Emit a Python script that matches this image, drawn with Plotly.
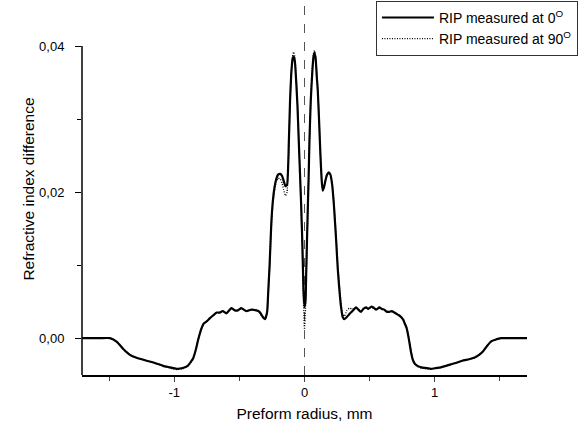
import plotly.graph_objects as go

# Preform radius (mm)
radius = [-1.709, -1.571, -1.494, -1.441, -1.392, -1.341, -1.290, -1.213, -1.149, -1.086,
          -1.034, -0.983, -0.935, -0.897, -0.856, -0.835, -0.818, -0.792, -0.774, -0.751,
          -0.728, -0.703, -0.674, -0.651, -0.628, -0.600, -0.562, -0.536, -0.511, -0.485,
          -0.447, -0.408, -0.370, -0.345, -0.320, -0.303, -0.287, -0.278, -0.268, -0.255,
          -0.243, -0.230, -0.217, -0.203, -0.186, -0.172, -0.161, -0.146, -0.134, -0.120,
          -0.111, -0.102, -0.092, -0.084, -0.074, -0.064, -0.054, -0.044, -0.034, -0.025,
          -0.015, -0.008, 0.000, 0.008, 0.013, 0.023, 0.031, 0.038, 0.048, 0.059,
          0.069, 0.077, 0.086, 0.094, 0.102, 0.112, 0.123, 0.132, 0.140, 0.149,
          0.161, 0.174, 0.186, 0.199, 0.212, 0.226, 0.243, 0.255, 0.268, 0.281,
          0.293, 0.307, 0.326, 0.345, 0.368, 0.396, 0.414, 0.434, 0.452, 0.473,
          0.490, 0.511, 0.529, 0.549, 0.575, 0.594, 0.613, 0.632, 0.651, 0.670,
          0.690, 0.709, 0.728, 0.747, 0.759, 0.770, 0.784, 0.795, 0.805, 0.818,
          0.831, 0.847, 0.868, 0.897, 0.933, 0.973, 1.009, 1.048, 1.086, 1.124,
          1.162, 1.211, 1.264, 1.303, 1.341, 1.372, 1.405, 1.437, 1.469, 1.507,
          1.571, 1.709]

# RIP measured at 0 degrees
rip_0 = [0.0000, 0.0000, 0.0000, -0.0005, -0.0015, -0.0023, -0.0027, -0.0031, -0.0034, -0.0038,
         -0.0040, -0.0042, -0.0041, -0.0038, -0.0028, -0.0016, -0.0003, 0.0013, 0.0020, 0.0023,
         0.0027, 0.0031, 0.0035, 0.0035, 0.0037, 0.0034, 0.0041, 0.0038, 0.0038, 0.0041,
         0.0037, 0.0039, 0.0038, 0.0036, 0.0029, 0.0026, 0.0036, 0.0066, 0.0100, 0.0157,
         0.0188, 0.0207, 0.0218, 0.0224, 0.0225, 0.0222, 0.0216, 0.0208, 0.0210, 0.0270,
         0.0325, 0.0361, 0.0382, 0.0386, 0.0379, 0.0352, 0.0318, 0.0270, 0.0223, 0.0179,
         0.0120, 0.0066, 0.0042, 0.0052, 0.0089, 0.0161, 0.0216, 0.0270, 0.0325, 0.0362,
         0.0385, 0.0391, 0.0382, 0.0359, 0.0339, 0.0298, 0.0248, 0.0216, 0.0202, 0.0206,
         0.0216, 0.0224, 0.0227, 0.0224, 0.0211, 0.0182, 0.0134, 0.0096, 0.0066, 0.0042,
         0.0029, 0.0026, 0.0029, 0.0033, 0.0037, 0.0042, 0.0039, 0.0036, 0.0040, 0.0042,
         0.0040, 0.0043, 0.0042, 0.0039, 0.0042, 0.0040, 0.0039, 0.0036, 0.0036, 0.0037,
         0.0035, 0.0033, 0.0031, 0.0028, 0.0025, 0.0020, 0.0014, 0.0005, -0.0005, -0.0019,
         -0.0029, -0.0035, -0.0038, -0.0040, -0.0041, -0.0042, -0.0041, -0.0040, -0.0038, -0.0036,
         -0.0034, -0.0031, -0.0029, -0.0027, -0.0023, -0.0018, -0.0010, -0.0004, -0.0002, 0.0000,
         0.0000, 0.0000]

# RIP measured at 90 degrees
rip_90 = [0.0000, 0.0000, 0.0000, -0.0005, -0.0015, -0.0023, -0.0027, -0.0031, -0.0034, -0.0038,
          -0.0041, -0.0043, -0.0042, -0.0038, -0.0029, -0.0017, -0.0004, 0.0012, 0.0020, 0.0023,
          0.0027, 0.0031, 0.0035, 0.0035, 0.0037, 0.0034, 0.0041, 0.0038, 0.0038, 0.0041,
          0.0037, 0.0039, 0.0038, 0.0035, 0.0028, 0.0027, 0.0034, 0.0060, 0.0094, 0.0150,
          0.0183, 0.0203, 0.0214, 0.0219, 0.0218, 0.0212, 0.0204, 0.0195, 0.0200, 0.0262,
          0.0322, 0.0363, 0.0386, 0.0392, 0.0385, 0.0358, 0.0322, 0.0272, 0.0220, 0.0170,
          0.0105, 0.0050, 0.0012, 0.0040, 0.0080, 0.0155, 0.0213, 0.0270, 0.0328, 0.0366,
          0.0390, 0.0394, 0.0386, 0.0363, 0.0342, 0.0300, 0.0250, 0.0217, 0.0203, 0.0207,
          0.0217, 0.0225, 0.0226, 0.0223, 0.0212, 0.0186, 0.0140, 0.0102, 0.0072, 0.0047,
          0.0033, 0.0030, 0.0038, 0.0041, 0.0040, 0.0042, 0.0039, 0.0037, 0.0040, 0.0041,
          0.0040, 0.0042, 0.0041, 0.0040, 0.0041, 0.0040, 0.0039, 0.0037, 0.0036, 0.0036,
          0.0035, 0.0033, 0.0031, 0.0028, 0.0025, 0.0021, 0.0015, 0.0006, -0.0004, -0.0018,
          -0.0029, -0.0036, -0.0039, -0.0041, -0.0042, -0.0042, -0.0041, -0.0040, -0.0038, -0.0036,
          -0.0034, -0.0031, -0.0029, -0.0027, -0.0023, -0.0018, -0.0010, -0.0004, -0.0002, 0.0000,
          0.0000, 0.0000]

x_tickvals = [-1, 0, 1]
x_ticktext = ["-1", "0", "1"]
x_minor = [-1.5, -0.5, 0.5, 1.5]
y_tickvals = [0.0, 0.02, 0.04]
y_ticktext = ["0,00", "0,02", "0,04"]
y_minor = [0.01, 0.03]

x_range = [-1.709, 1.709]
y_range = [-0.00505, 0.0459]
y_axis_top = 0.04

FONT = "Liberation Sans, Arial, sans-serif"

fig = go.Figure()
fig.add_trace(go.Scatter(x=radius, y=rip_0, mode="lines", name="RIP measured at 0<sup>O</sup>",
                         line=dict(color="black", width=2.2, shape="spline", smoothing=0.45)))
fig.add_trace(go.Scatter(x=radius, y=rip_90, mode="lines", name="RIP measured at 90<sup>O</sup>",
                         line=dict(color="black", width=1.3, dash="1px,1.5px", shape="spline", smoothing=0.45)))

# dashed vertical line at r = 0
fig.add_shape(type="line", xref="x", yref="y", x0=0, x1=0, y0=y_range[0], y1=y_range[1],
              line=dict(color="#555555", width=1, dash="dash"), layer="below")
# y axis line (stops at top tick)
fig.add_shape(type="line", xref="paper", yref="y", x0=0, x1=0, y0=y_range[0], y1=y_axis_top,
              line=dict(color="black", width=1.5))

fig.update_layout(
    width=579, height=427,
    margin=dict(l=82, r=51, t=2, b=52),
    paper_bgcolor="white", plot_bgcolor="white",
    font=dict(family=FONT, size=14, color="black"),
    showlegend=True,
    legend=dict(x=1.112, y=1.003, xanchor="right", yanchor="top",
                bordercolor="#333333", borderwidth=1, bgcolor="white",
                font=dict(family=FONT, size=14, color="black"),
                tracegroupgap=0, itemwidth=52),
    xaxis=dict(range=x_range, showgrid=False, zeroline=False, showline=True,
               linecolor="black", linewidth=1.5, ticks="outside", ticklen=5, tickwidth=1.2,
               tickvals=x_tickvals, ticktext=x_ticktext,
               tickfont=dict(family=FONT, size=13),
               minor=dict(tickvals=x_minor, ticks="outside", ticklen=4, tickwidth=1.2, showgrid=False),
               title=dict(text="Preform radius, mm", font=dict(family=FONT, size=15.5), standoff=9)),
    yaxis=dict(range=y_range, showgrid=False, zeroline=False, showline=False,
               ticks="outside", ticklen=6, tickwidth=1.2, tickcolor="black",
               tickvals=y_tickvals, ticktext=y_ticktext, ticklabelstandoff=8,
               tickfont=dict(family=FONT, size=13),
               minor=dict(tickvals=y_minor, ticks="outside", ticklen=4, tickwidth=1.2, showgrid=False),
               title=dict(text="Refractive index difference", font=dict(family=FONT, size=15.5), standoff=0)),
)

fig.write_html("out.html", post_script="document.body.style.margin='0';",
               config={"displayModeBar": False})
